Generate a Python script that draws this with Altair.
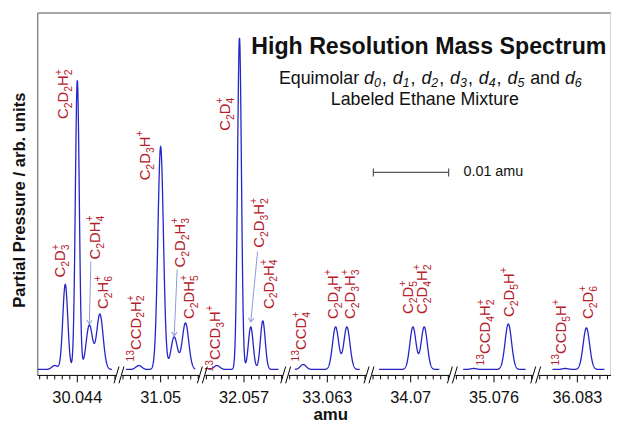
import math
import re
import numpy as np
import pandas as pd
import altair as alt

# ---------------- data ----------------
tick_labels = ["30.044", "31.05", "32.057", "33.063", "34.07", "35.076", "36.083"]
centers = [float(t) for t in tick_labels]

# peaks: segment, mass (amu), apparent peak height (arb.), gaussian sigma (amu)
peak_seg = [0, 0, 0, 0, 0, 1, 1, 1, 1, 2, 2, 2, 2, 3, 3, 3, 4, 4, 5, 5, 6, 6]
peak_mass = [30.0410, 30.0424, 30.0440, 30.0456, 30.0470,
             31.0471, 31.0500, 31.0518, 31.0533,
             32.0534, 32.0564, 32.0579, 32.0595,
             33.0598, 33.0641, 33.0656,
             34.0703, 34.0718,
             35.0733, 35.0779,
             36.0814, 36.0842]
peak_height = [4, 86, 292, 45, 56,
               4, 225, 33, 47,
               4, 335, 43, 49,
               5, 43, 43,
               43, 43,
               1, 46,
               1, 42]
peak_sigma = [0.00039, 0.00033, 0.00026, 0.00043, 0.00043,
              0.00039, 0.00037, 0.00043, 0.00043,
              0.00039, 0.00026, 0.00032, 0.00032,
              0.00039, 0.00041, 0.00041,
              0.00041, 0.00041,
              0.00039, 0.00043,
              0.00039, 0.00043]
# recorded mass window of each segment (offset from its centre, amu)
seg_lo = [-0.00526, -0.0046, -0.0047, -0.0043, -0.0042, -0.0041, -0.0033]
seg_hi = [0.0046, 0.0046, 0.0046, 0.0043, 0.0038, 0.0042, 0.0036]

# ion labels (_n = subscript, ^x = superscript), segment, mass, intensity where the label starts
label_text = ["C_2D_3^+", "C_2D_2H_2^+", "C_2DH_4^+", "C_2H_6^+",
              "^{13}CCD_2H_2^+", "C_2D_3H^+", "C_2D_2H_3^+", "C_2DH_5^+",
              "^{13}CCD_3H^+", "C_2D_4^+", "C_2D_3H_2^+", "C_2D_2H_4^+",
              "^{13}CCD_4^+", "C_2D_4H^+", "C_2D_3H_3^+",
              "C_2D_5^+", "C_2D_4H_2^+",
              "^{13}CCD_4H_2^+", "C_2D_5H^+",
              "^{13}CCD_5H^+", "C_2D_6^+"]
label_seg = [0, 0, 0, 0, 1, 1, 1, 1, 2, 2, 2, 2, 3, 3, 3, 4, 4, 5, 5, 6, 6]
label_mass = [30.0419, 30.0423, 30.0465, 30.0476,
              31.0468, 31.0481, 31.0527, 31.0539,
              32.0533, 32.0546, 32.0591, 32.0604,
              33.0596, 33.0639, 33.0662,
              34.0698, 34.0716,
              35.0750, 35.0781,
              36.0810, 36.0846]
label_level = [93, 253, 111, 61,
               8, 191, 103, 51,
               -2, 241, 123, 61,
               8, 51, 51,
               56, 56,
               4, 53,
               4, 51]

# pointer arrows: segment, start (mass, intensity) -> end (mass, intensity)
arrow_seg = [0, 1, 2]
arrow_m0 = [30.0458, 31.0522, 32.0588]
arrow_i0 = [109, 101, 119]
arrow_m1 = [30.0456, 31.0518, 32.0579]
arrow_i1 = [46, 34, 48]

scalebar_len = 0.01  # amu
scalebar_text = "0.01 amu"

# ---------------- layout / styling ----------------
PX = 7600.0            # pixels per amu
SEG = 84.17 / PX       # spacing of the broken-axis segments
W, H = 579, 366
U_LO = -40 / PX
U_HI = U_LO + W / PX
Y_LO, Y_HI = -6, 360   # 1 intensity unit = 1 px
BLUE = "#2424c8"
RED = "#b5202a"
ARROW = "#8c9bd8"
GRAY = "#8a8a8a"
FONT = "Liberation Sans"
MAINF, SUBF = 15, 10.5
SUB_DX, SUP_DX = 6, -5


def to_u(seg, mass):
    return seg * SEG + (mass - centers[seg])


xs = alt.Scale(domain=[U_LO, U_HI], nice=False, zero=False)
ys = alt.Scale(domain=[Y_LO, Y_HI], nice=False, zero=False)


def X(f):
    return alt.X(f, type="quantitative", scale=xs, axis=None)


def Y(f):
    return alt.Y(f, type="quantitative", scale=ys, axis=None)


# spectrum
rows = []
pm = np.array(peak_mass)
ph = np.array(peak_height, dtype=float)
psg = np.array(peak_sigma)
pseg = np.array(peak_seg)
for s in range(7):
    idx = np.where(pseg == s)[0]
    m, h, sg = pm[idx], ph[idx], psg[idx]
    A = np.exp(-(m[:, None] - m[None, :]) ** 2 / (2 * sg[None, :] ** 2))
    amp = np.linalg.solve(A, h)
    c = centers[s]
    grid = np.arange(c + seg_lo[s], c + seg_hi[s] + 1e-9, 0.00002)
    yv = (amp[None, :] * np.exp(-(grid[:, None] - m[None, :]) ** 2 / (2 * sg[None, :] ** 2))).sum(1)
    for k, (g, v) in enumerate(zip(grid, yv)):
        rows.append({"u": to_u(s, g), "I": v, "seg": s, "k": k})
spec_df = pd.DataFrame(rows)

spectrum = alt.Chart(spec_df).mark_line(color=BLUE, strokeWidth=1.3).encode(
    x=X("u"), y=Y("I"), detail="seg:N", order="k:Q")

# ion labels built from pieces (main letters, subscripts, superscripts), reading upward
CW = {"C": .722, "D": .722, "H": .722}
piece_rows = []
for code, s, mass, lev in zip(label_text, label_seg, label_mass, label_level):
    u0 = to_u(s, mass) - 1 / PX
    along = 0.0
    prev_sub = None
    for tk in re.findall(r"\^\{\d+\}|\^\+|_\d|[A-Z]", code):
        if tk.startswith("_"):
            d = tk[1:]
            piece_rows.append({"t": d, "a": along, "dx": SUB_DX, "fs": SUBF})
            prev_sub = along
            along += len(d) * .556 * SUBF
        elif tk == "^+":
            if prev_sub is not None:
                piece_rows.append({"t": "+", "a": prev_sub, "dx": SUP_DX, "fs": SUBF})
            else:
                piece_rows.append({"t": "+", "a": along, "dx": SUP_DX, "fs": SUBF})
                along += .584 * SUBF
        elif tk.startswith("^{"):
            d = tk[2:-1]
            piece_rows.append({"t": d, "a": along, "dx": SUP_DX, "fs": SUBF})
            along += len(d) * .556 * SUBF
            prev_sub = None
        else:
            piece_rows.append({"t": tk, "a": along, "dx": 0, "fs": MAINF})
            along += CW[tk] * MAINF
            prev_sub = None
        piece_rows[-1]["u"] = u0 + piece_rows[-1]["dx"] / PX
        piece_rows[-1]["I"] = lev + piece_rows[-1]["a"]
lab_df = pd.DataFrame(piece_rows)
labels = alt.Chart(lab_df).mark_text(
    angle=270, align="left", baseline="middle", color=RED, font=FONT
).encode(x=X("u"), y=Y("I"), text="t:N", size=alt.Size("fs:Q", scale=None, legend=None))

arr_rows = []
for s, m0, i0, m1, i1 in zip(arrow_seg, arrow_m0, arrow_i0, arrow_m1, arrow_i1):
    u0, u1 = to_u(s, m0), to_u(s, m1)
    dxp = (u1 - u0) * PX
    dyp = -(i1 - i0)
    ang = math.degrees(math.atan2(-dxp, dyp)) % 360
    arr_rows.append({"u0": u0, "i0": i0, "u1": u1, "i1": i1, "ang": ang})
arr_df = pd.DataFrame(arr_rows)
arrow_lines = alt.Chart(arr_df).mark_rule(color=ARROW, strokeWidth=1).encode(
    x=X("u0"), y=Y("i0"), x2="u1:Q", y2="i1:Q")
arrow_heads = alt.Chart(arr_df).mark_point(
    shape="M -1 -1.4 L 0 0 L 1 -1.4", filled=False, size=30, strokeWidth=1, color=ARROW, opacity=1
).encode(x=X("u1"), y=Y("i1"), angle=alt.Angle("ang:Q", scale=None))

# broken x axis
ax_rows, tick_rows, br_rows = [], [], []
for s in range(7):
    a = U_LO if s == 0 else s * SEG - SEG / 2 + 3 / PX
    b = U_HI if s == 6 else s * SEG + SEG / 2 - 3 / PX
    ax_rows.append({"a": a, "b": b})
    for k in range(-5, 6):
        tick_rows.append({"u": s * SEG + k * 0.001, "major": k == 0})
    if s < 6:
        mid = (s + 0.5) * SEG
        for off in (-2.5, 2.5):
            br_rows.append({"a": mid + (off - 2.5) / PX, "b": mid + (off + 2.5) / PX})
ax_df = pd.DataFrame(ax_rows)
tick_df = pd.DataFrame(tick_rows)
br_df = pd.DataFrame(br_rows)

axis_line = alt.Chart(ax_df).mark_rule(color="black", strokeWidth=1).encode(
    x=X("a"), x2="b:Q", y=alt.value(H))
minor = alt.Chart(tick_df[~tick_df.major]).mark_rule(color="black", strokeWidth=1).encode(
    x=X("u"), y=alt.value(H), y2=alt.value(H + 4))
major = alt.Chart(tick_df[tick_df.major]).mark_rule(color="black", strokeWidth=1).encode(
    x=X("u"), y=alt.value(H), y2=alt.value(H + 7))
breaks = alt.Chart(br_df).mark_rule(color="black", strokeWidth=1).encode(
    x=X("a"), x2="b:Q", y=alt.value(H + 8), y2=alt.value(H - 9))
tl_df = pd.DataFrame({"u": [s * SEG for s in range(7)], "t": tick_labels})
tick_text = alt.Chart(tl_df).mark_text(
    fontSize=16.5, font=FONT, baseline="alphabetic", align="center", color="#111"
).encode(x=X("u"), y=alt.value(H + 28), text="t:N")

one = pd.DataFrame({"z": [0]})
left_border = alt.Chart(one).mark_rule(color=GRAY, strokeWidth=1.5).encode(
    x=alt.value(0), y=alt.value(0), y2=alt.value(H))
top_border = alt.Chart(one).mark_rule(color=GRAY, strokeWidth=1.5).encode(
    x=alt.value(0), x2=alt.value(W), y=alt.value(0))
right_border = alt.Chart(one).mark_rule(color="#d0d0d0", strokeWidth=1).encode(
    x=alt.value(W - 0.5), y=alt.value(0), y2=alt.value(H))

# scale bar
sb_u0 = (377 - 78) / PX
sb_level = 199
sb_df = pd.DataFrame({"a": [sb_u0], "b": [sb_u0 + scalebar_len], "I": [sb_level]})
sb_line = alt.Chart(sb_df).mark_rule(color="#555", strokeWidth=1.2).encode(
    x=X("a"), x2="b:Q", y=Y("I"))
cap_df = pd.DataFrame({"u": [sb_u0, sb_u0 + scalebar_len], "lo": [sb_level - 4] * 2, "hi": [sb_level + 4] * 2})
sb_caps = alt.Chart(cap_df).mark_rule(color="#555", strokeWidth=1.2).encode(
    x=X("u"), y=Y("lo"), y2="hi:Q")
sb_text = alt.Chart(pd.DataFrame({"u": [sb_u0 + scalebar_len + 15 / PX], "I": [sb_level], "t": [scalebar_text]})).mark_text(
    align="left", baseline="middle", fontSize=14.5, font=FONT, color="#111"
).encode(x=X("u"), y=Y("I"), text="t:N")


# titles
def txt(s, x, y, size, weight="normal", style="normal", align="center", angle=0, baseline="alphabetic"):
    return alt.Chart(one).mark_text(
        text=s, fontSize=size, fontWeight=weight, fontStyle=style, align=align, angle=angle,
        baseline=baseline, font=FONT, color="#111"
    ).encode(x=alt.value(x), y=alt.value(y))


title = txt("High Resolution Mass Spectrum", 395, 41, 23.4, weight="bold")
line2 = txt("Labeled Ethane Mixture", 391, 92.5, 18)
ytitle = txt("Partial Pressure / arb. units", -13, 189, 16.8, weight="bold", angle=270, baseline="alphabetic")
xtitle = txt("amu", 296, 411.5, 17, weight="bold")

EM = {'E': .667, 'q': .556, 'u': .556, 'i': .222, 'm': .833, 'o': .556, 'l': .222, 'a': .556,
      'r': .333, ' ': .278, 'd': .556, ',': .278, 'n': .556}
for dgt in "0123456789":
    EM[dgt] = .556

# (text, style, size, baseline shift, extra advance after, space before)
pieces = [("Equimolar", "normal", 18, 0, .278 * 18, 0)]
for k in range(7):
    pieces.append(("d", "italic", 18, 0, 0, 0))
    pieces.append((str(k), "italic", 12.5, 3, 1.0, 0))
    if k < 5:
        pieces.append((",", "normal", 18, 0, .278 * 18 + 1, 0))
    elif k == 5:
        pieces.append(("and", "normal", 18, 0, .278 * 18, .278 * 18))
widths = [sum(EM[ch] for ch in p[0]) * p[2] + p[4] + p[5] for p in pieces]
xpos = 397 - sum(widths) / 2
sub_layers = []
for p, w in zip(pieces, widths):
    sub_layers.append(txt(p[0], xpos + p[5], 71.5 + p[3], p[2], style=p[1], align="left"))
    xpos += w

chart = alt.layer(
    left_border, top_border, right_border,
    spectrum, arrow_lines, arrow_heads, labels,
    axis_line, minor, major, breaks, tick_text,
    sb_line, sb_caps, sb_text,
    title, line2, ytitle, xtitle, *sub_layers
).properties(
    width=W, height=H,
    autosize=alt.AutoSizeParams(type="none"),
    padding={"left": 30, "top": 3, "right": 0, "bottom": 46},
).configure_view(stroke=None)

chart.save("out.html", embed_options={"renderer": "svg", "actions": False})
